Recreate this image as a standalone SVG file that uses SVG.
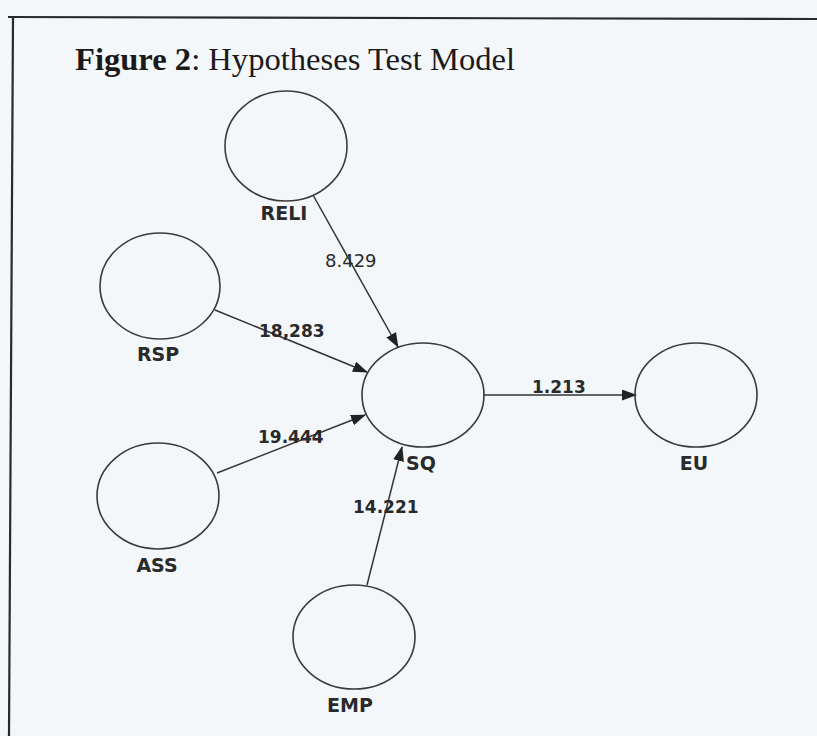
<svg xmlns="http://www.w3.org/2000/svg" width="817" height="736" viewBox="0 0 817 736">
<style>
.node ellipse{fill:none;stroke:#3a3a3a;stroke-width:1.6}
.lbl{font-family:"DejaVu Sans",sans-serif;font-weight:bold;font-size:19px;fill:#2a2a2a;text-anchor:middle}
.num{font-family:"DejaVu Sans",sans-serif;font-weight:bold;font-size:17px;fill:#2a2a2a}
.conn line{stroke:#333;stroke-width:1.5}
</style>
<defs>
<marker id="ah" markerWidth="15" markerHeight="11" refX="14" refY="5.5" orient="auto" markerUnits="userSpaceOnUse">
<path d="M0,0 L15,5.5 L0,11 z" fill="#222"/>
</marker>
</defs>
<rect x="0" y="0" width="817" height="736" fill="#f3f7fa"/>
<g id="frame" stroke="#2a2a2a" stroke-width="2.2" fill="none">
<line x1="8" y1="17" x2="817" y2="19"/>
<line x1="13" y1="17" x2="9" y2="736"/>
</g>
<text x="75" y="70" font-family="Liberation Serif, serif" font-size="32" fill="#1a1a1a" textLength="440" lengthAdjust="spacingAndGlyphs"><tspan font-weight="bold">Figure 2</tspan>: Hypotheses Test Model</text>
<g id="connectors" class="conn">
<line x1="313" y1="195" x2="398" y2="347" marker-end="url(#ah)"/>
<line x1="215" y1="310" x2="367" y2="372" marker-end="url(#ah)"/>
<line x1="217" y1="473" x2="365" y2="415" marker-end="url(#ah)"/>
<line x1="367" y1="585" x2="402" y2="447" marker-end="url(#ah)"/>
<line x1="483" y1="395" x2="636" y2="395" marker-end="url(#ah)"/>
</g>
<g id="labels">
<text x="325" y="267" font-family="DejaVu Sans, sans-serif" font-size="18" fill="#2a2a2a">8.429</text>
<text class="num" x="259" y="337">18,283</text>
<text class="num" x="258" y="443">19.444</text>
<text class="num" x="353" y="513">14.221</text>
<text class="num" x="532" y="393">1.213</text>
</g>
<g id="RELI" class="node"><ellipse cx="286" cy="146" rx="61" ry="55"/><text class="lbl" x="284" y="220">RELI</text></g>
<g id="RSP" class="node"><ellipse cx="160" cy="286" rx="60" ry="53"/><text class="lbl" x="158" y="361">RSP</text></g>
<g id="ASS" class="node"><ellipse cx="158" cy="496" rx="61" ry="53"/><text class="lbl" x="157" y="572">ASS</text></g>
<g id="EMP" class="node"><ellipse cx="354" cy="637" rx="61" ry="52"/><text class="lbl" x="350" y="712">EMP</text></g>
<g id="SQ" class="node"><ellipse cx="423" cy="395" rx="61" ry="52"/><text class="lbl" x="421" y="470">SQ</text></g>
<g id="EU" class="node"><ellipse cx="696" cy="395" rx="61" ry="52"/><text class="lbl" x="694" y="470">EU</text></g>
</svg>
